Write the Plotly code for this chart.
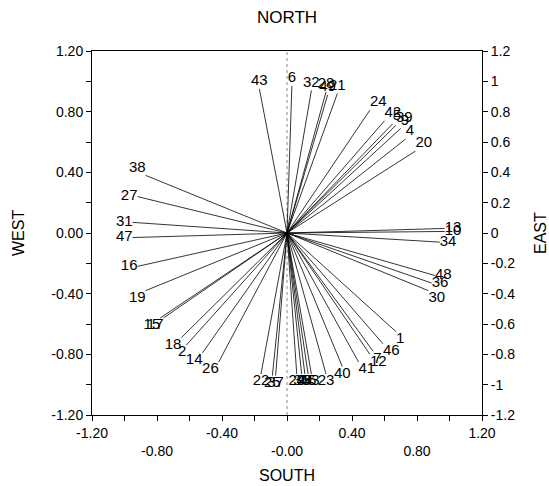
import math
import plotly.graph_objects as go

# Vector labels and endpoint coordinates
labels = ["43", "6", "32", "28", "49", "21", "24", "42", "5", "39", "9", "4", "20",
          "13", "10", "34", "48", "36", "30",
          "1", "46", "7", "12", "41", "40", "23", "33", "45", "44", "35", "29",
          "37", "25", "22", "26", "14", "2", "18", "17", "15",
          "19", "16", "47", "31", "27", "38"]
x_vals = [-0.17, 0.03, 0.15, 0.24, 0.25, 0.31, 0.51, 0.60, 0.65, 0.67, 0.70, 0.73, 0.79,
          0.97, 0.97, 0.94, 0.91, 0.89, 0.87,
          0.67, 0.59, 0.53, 0.51, 0.44, 0.34, 0.24, 0.15, 0.13, 0.11, 0.09, 0.06,
          -0.07, -0.09, -0.16, -0.42, -0.52, -0.62, -0.65, -0.76, -0.78,
          -0.87, -0.92, -0.95, -0.95, -0.92, -0.87]
y_vals = [0.95, 0.97, 0.94, 0.93, 0.91, 0.92, 0.81, 0.74, 0.72, 0.71, 0.69, 0.62, 0.54,
          0.03, 0.01, -0.06, -0.28, -0.33, -0.38,
          -0.65, -0.73, -0.78, -0.80, -0.85, -0.88, -0.93, -0.93, -0.93, -0.93, -0.93, -0.93,
          -0.94, -0.94, -0.93, -0.85, -0.79, -0.74, -0.69, -0.56, -0.56,
          -0.38, -0.22, -0.03, 0.07, 0.24, 0.38]

x_ticks = [-1.2, -1.0, -0.8, -0.6, -0.4, -0.2, 0.0, 0.2, 0.4, 0.6, 0.8, 1.0, 1.2]
x_ticktext = ["-1.20", "", "<br>-0.80", "", "-0.40", "", "<br>-0.00", "", "0.40", "", "<br>0.80", "", "1.20"]
y_ticks = [-1.2, -1.0, -0.8, -0.6, -0.4, -0.2, 0.0, 0.2, 0.4, 0.6, 0.8, 1.0, 1.2]
y_ticktext = ["-1.20", "", "-0.80", "", "-0.40", "", "0.00", "", "0.40", "", "0.80", "", "1.20"]
y2_ticktext = ["-1.2", "-1", "-0.8", "-0.6", "-0.4", "-0.2", "0", "0.2", "0.4", "0.6", "0.8", "1", "1.2"]

FONT = "Liberation Sans, Arial, sans-serif"


def text_pos(x, y):
    a = math.degrees(math.atan2(y, x))
    if -22.5 <= a < 22.5:
        return "middle right"
    if 22.5 <= a < 67.5:
        return "top right"
    if 67.5 <= a < 112.5:
        return "top center"
    if 112.5 <= a < 157.5:
        return "top left"
    if a >= 157.5 or a < -157.5:
        return "middle left"
    if -157.5 <= a < -112.5:
        return "bottom left"
    if -112.5 <= a < -67.5:
        return "bottom center"
    return "bottom right"


lx, ly = [], []
for x, y in zip(x_vals, y_vals):
    lx += [0, x, None]
    ly += [0, y, None]

fig = go.Figure()
# dotted zero line
fig.add_trace(go.Scatter(x=[0, 0], y=[-1.2, 1.2], mode="lines",
                         line=dict(color="#888", width=1, dash="dot"),
                         hoverinfo="skip", showlegend=False))
fig.add_trace(go.Scatter(x=lx, y=ly, mode="lines",
                         line=dict(color="black", width=0.8),
                         hoverinfo="skip", showlegend=False))
fig.add_trace(go.Scatter(x=x_vals, y=y_vals, mode="text", text=labels,
                         textposition=[text_pos(x, y) for x, y in zip(x_vals, y_vals)],
                         textfont=dict(family=FONT, size=15, color="black"),
                         showlegend=False))
# invisible trace for the right axis
fig.add_trace(go.Scatter(x=[0], y=[0], yaxis="y2", mode="markers",
                         marker=dict(opacity=0), hoverinfo="skip", showlegend=False))

axis_common = dict(showgrid=False, zeroline=False, showline=True, linecolor="black",
                   linewidth=1, ticks="outside", ticklen=5, tickcolor="black",
                   tickfont=dict(family=FONT, size=14, color="black"))

fig.update_layout(
    width=549, height=486,
    margin=dict(l=92, r=67, t=51, b=71),
    paper_bgcolor="white", plot_bgcolor="white",
    xaxis=dict(range=[-1.2, 1.2], tickmode="array", tickvals=x_ticks, ticktext=x_ticktext,
               mirror=True, **axis_common),
    yaxis=dict(range=[-1.2, 1.2], tickmode="array", tickvals=y_ticks, ticktext=y_ticktext,
               **axis_common),
    yaxis2=dict(range=[-1.2, 1.2], overlaying="y", side="right", tickmode="array",
                tickvals=y_ticks, ticktext=y2_ticktext, **axis_common),
    annotations=[
        dict(text="NORTH", x=0.5, y=1.0, xref="paper", yref="paper", yshift=22,
             showarrow=False, yanchor="bottom", font=dict(family=FONT, size=17, color="black")),
        dict(text="SOUTH", x=0.5, y=0, xref="paper", yref="paper", yshift=-50,
             showarrow=False, yanchor="top", font=dict(family=FONT, size=16, color="black")),
        dict(text="WEST", x=0, y=0.5, xref="paper", yref="paper", xshift=-74,
             showarrow=False, textangle=-90, xanchor="center", font=dict(family=FONT, size=16, color="black")),
        dict(text="EAST", x=1, y=0.5, xref="paper", yref="paper", xshift=58,
             showarrow=False, textangle=-90, xanchor="center", font=dict(family=FONT, size=16, color="black")),
    ],
)
fig.write_html("out.html")
